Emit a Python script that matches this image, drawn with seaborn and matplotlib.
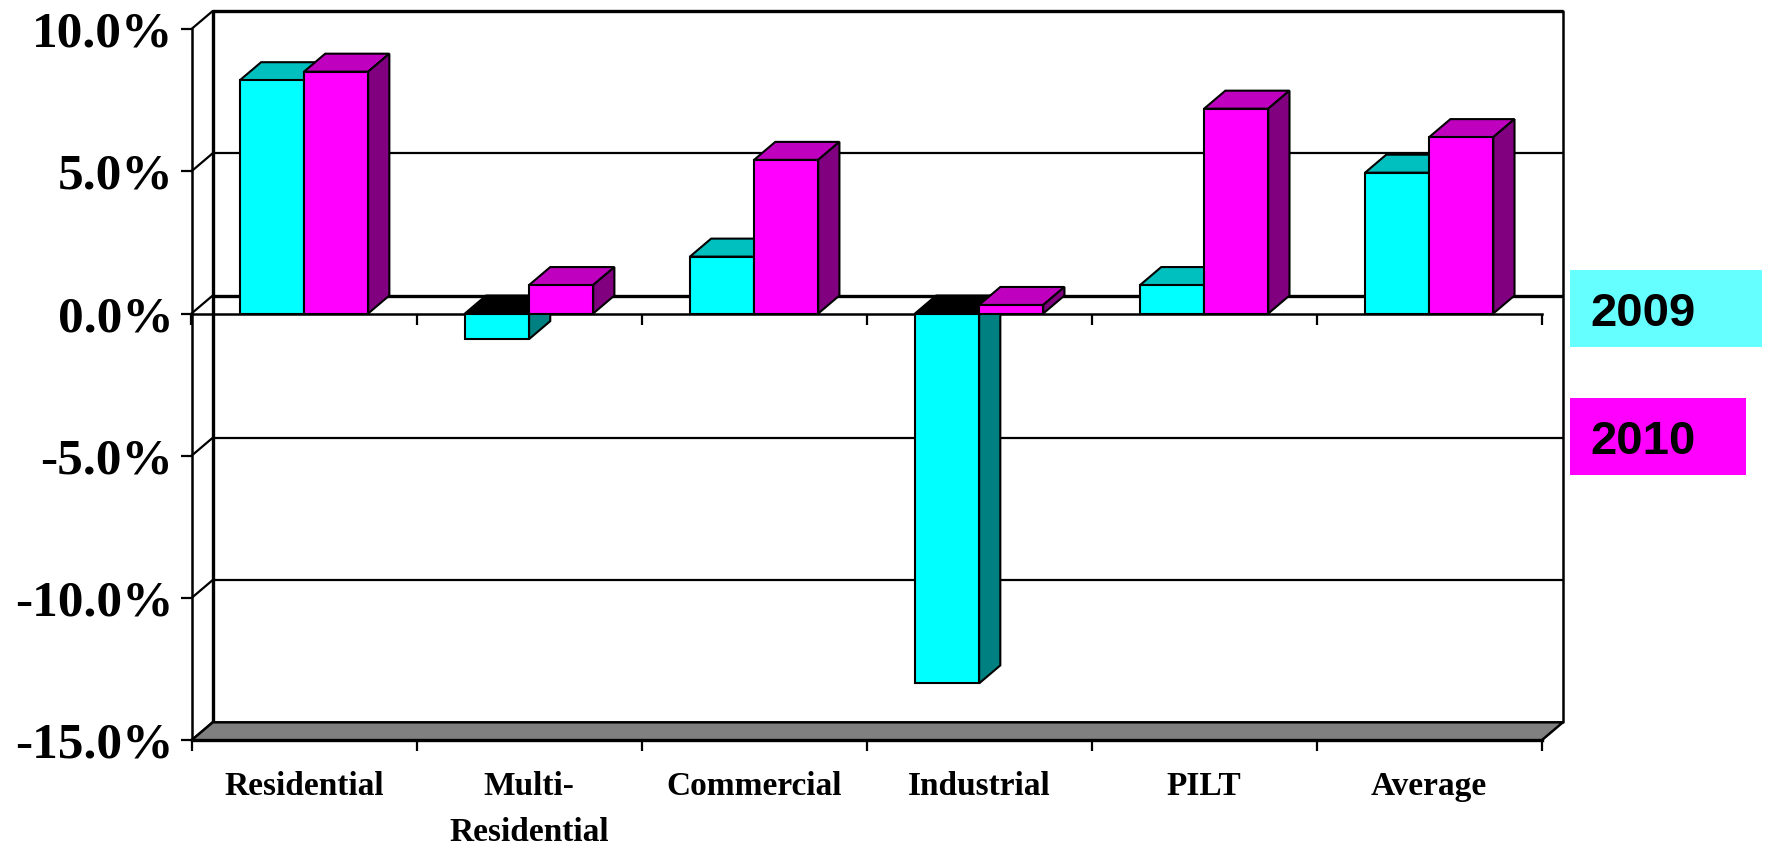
import matplotlib
matplotlib.use("Agg")
import matplotlib.pyplot as plt
from matplotlib.patches import Polygon, Rectangle
import pandas as pd
import seaborn as sns

categories = ["Residential", "Multi-\nResidential", "Commercial", "Industrial", "PILT", "Average"]
values_2009 = [8.2, -0.9, 2.0, -13.0, 1.0, 4.95]
values_2010 = [8.5, 1.0, 5.4, 0.3, 7.2, 6.2]
years = ["2009", "2010"]
y_ticks = [10, 5, 0, -5, -10, -15]
y_tick_labels = ["10.0%", "5.0%", "0.0%", "-5.0%", "-10.0%", "-15.0%"]

front_colors = {"2009": "#00FFFF", "2010": "#FF00FF"}
top_colors = {"2009": "#00BFBF", "2010": "#BF00BF"}
side_colors = {"2009": "#008080", "2010": "#800080"}
legend_colors = {"2009": "#66FFFF", "2010": "#FF00FF"}

W, H = 1773, 848
LEFT, RIGHT, TOP, BOTTOM = 191.5, 1541.7, 29.0, 740.3
# Pseudo-3D depth of the chart box, in data units
DEPTH_X = 21.2 / 225.0
DEPTH_Y = 18.0 / 28.45

EDGE = 1.5
GRID = 1.6
AXIS = 1.8
HEAVY = 2.4

df = pd.DataFrame({
    "category": categories * 2,
    "year": [years[0]] * 6 + [years[1]] * 6,
    "change": values_2009 + values_2010,
})

sns.set_theme(style="white")
fig = plt.figure(figsize=(W / 100, H / 100), dpi=100, facecolor="white")
ax = fig.add_axes([LEFT / W, 1 - BOTTOM / H, (RIGHT - LEFT) / W, (BOTTOM - TOP) / H])
ax.patch.set_visible(False)

sns.barplot(data=df, x="category", y="change", hue="year", hue_order=years,
            palette=front_colors, saturation=1, width=0.57, edgecolor="black",
            linewidth=EDGE, legend=False, ax=ax, zorder=10)
ax.set_xlim(-0.5, 5.5)
ax.set_ylim(-15, 10)
ax.set_xlabel("")
ax.set_ylabel("")

x0, x1 = -0.5, 5.5

# Back wall: gridlines, verticals and the grey floor
for y in y_ticks[:-1]:
    ax.plot([x0 + DEPTH_X, x1 + DEPTH_X], [y + DEPTH_Y] * 2, color="black", clip_on=False,
            lw=HEAVY if y in (10, 0) else GRID, zorder=2, solid_capstyle="butt")
ax.plot([x0 + DEPTH_X] * 2, [-15 + DEPTH_Y, 10 + DEPTH_Y], color="black", lw=HEAVY,
        clip_on=False, zorder=2)
ax.plot([x1 + DEPTH_X] * 2, [-15 + DEPTH_Y, 10 + DEPTH_Y], color="black", lw=AXIS,
        clip_on=False, zorder=2)
ax.add_patch(Polygon([(x0, -15), (x0 + DEPTH_X, -15 + DEPTH_Y), (x1 + DEPTH_X, -15 + DEPTH_Y), (x1, -15)],
                     closed=True, facecolor="#808080", edgecolor="black", lw=AXIS,
                     clip_on=False, zorder=3))

# Side walls joining the front axis to the back wall
for y in y_ticks:
    ax.plot([x0, x0 + DEPTH_X], [y, y + DEPTH_Y], color="black", lw=GRID, clip_on=False, zorder=2)

# Top and side faces of every bar, extruded from the drawn front faces
for idx, bar in enumerate(ax.patches[:12]):
    year = years[idx // 6]
    left, right = bar.get_x(), bar.get_x() + bar.get_width()
    value = df["change"].iloc[idx]
    base_z = 6 + idx // 6 * 2
    bar.set_zorder(base_z + 1)
    top_color = top_colors[year] if value >= 0 else "black"
    cap = max(value, 0)
    ax.add_patch(Polygon([(left, cap), (left + DEPTH_X, cap + DEPTH_Y),
                          (right + DEPTH_X, cap + DEPTH_Y), (right, cap)], closed=True,
                         facecolor=top_color, edgecolor="black", lw=EDGE, clip_on=False, zorder=base_z))
    ax.add_patch(Polygon([(right, 0), (right + DEPTH_X, DEPTH_Y),
                          (right + DEPTH_X, value + DEPTH_Y), (right, value)], closed=True,
                         facecolor=side_colors[year], edgecolor="black", lw=EDGE, clip_on=False, zorder=base_z))

# Front axes
sns.despine(ax=ax, top=True, right=True)
for name in ("left", "bottom"):
    ax.spines[name].set_color("black")
    ax.spines[name].set_linewidth(AXIS)
    ax.spines[name].set_zorder(5)
ax.spines["bottom"].set_linewidth(HEAVY)

boundaries = [x0 + i for i in range(7)]
ax.set_yticks(y_ticks)
ax.set_yticklabels(y_tick_labels, family="Liberation Serif", fontweight="bold",
                   fontsize=37, color="black")
ax.set_xticks(range(6))
ax.set_xticklabels(categories, family="Liberation Serif", fontweight="bold",
                   fontsize=24, color="black", linespacing=1.65)
ax.set_xticks(boundaries, minor=True)
ax.tick_params(axis="y", which="major", left=True, length=8, width=GRID, color="black", pad=5)
ax.tick_params(axis="x", which="major", length=0, pad=22)
ax.tick_params(axis="x", which="minor", bottom=True, length=8, width=GRID, color="black")

# Front baseline at zero, with its own boundary ticks
zero_axis = ax.secondary_xaxis(15 / 25)
zero_axis.set_alignment("bottom")
zero_axis.spines["bottom"].set_linewidth(AXIS)
zero_axis.spines["bottom"].set_color("black")
zero_axis.set_xticks(boundaries)
zero_axis.set_xticklabels([])
zero_axis.tick_params(axis="x", bottom=True, top=False, length=8, width=GRID, color="black")

# Series key as two coloured text boxes
key_boxes = [(1570, 270, 192, 77), (1570, 398, 176, 77)]
for year, (bx, by, bw, bh) in zip(years, key_boxes):
    fig.add_artist(Rectangle((bx / W, 1 - (by + bh) / H), bw / W, bh / H, facecolor=legend_colors[year],
                             edgecolor="none", transform=fig.transFigure))
    fig.text(1590 / W, 1 - (by + bh / 2) / H, year, family="Liberation Sans", fontweight="bold",
             fontsize=34, color="black", ha="left", va="center_baseline")

fig.savefig("out.png", dpi=100, facecolor="white")
